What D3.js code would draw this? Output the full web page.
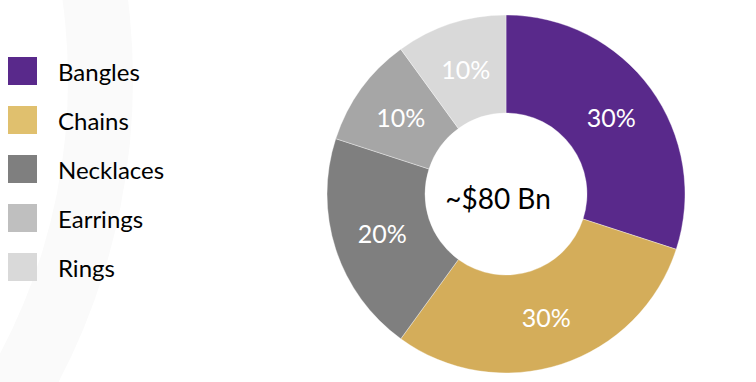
<!DOCTYPE html>
<html>
<head>
<meta charset="utf-8">
<script src="https://cdn.jsdelivr.net/npm/d3@7"></script>
<style>
  html, body { margin: 0; padding: 0; background: #ffffff; }
  svg { display: block; }
</style>
</head>
<body>
<svg id="chart" width="756" height="382"></svg>
<script>
// Jewellery market split by product type
const categories = ["Bangles", "Chains", "Necklaces", "Earrings", "Rings"];
const shares = [30, 30, 20, 10, 10];
const shareLabels = ["30%", "30%", "20%", "10%", "10%"];
const totalLabel = "~$80 Bn";

const sliceColors = ["#59298b", "#d4ad5a", "#7f7f7f", "#a6a6a6", "#d9d9d9"];
const keyColors = ["#59298b", "#e0c06e", "#7f7f7f", "#bfbfbf", "#d9d9d9"];

const W = 756, H = 382;
const svg = d3.select("#chart");
const textFont = "Lato, sans-serif";

// faint decorative ring sweeping down the left side
const deco = d3.arc()
  .innerRadius(585).outerRadius(650)
  .startAngle(0).endAngle(Math.PI);
svg.append("path")
  .attr("transform", "translate(-517,80)")
  .attr("d", deco())
  .attr("fill", "#fafafa");

// donut
const cx = 506, cy = 194, rOuter = 179, rInner = 81;
const pie = d3.pie().sort(null).value(d => d.value);
const arcs = pie(categories.map((c, i) => ({ name: c, value: shares[i], label: shareLabels[i], color: sliceColors[i] })));
const arc = d3.arc().innerRadius(rInner).outerRadius(rOuter);

const g = svg.append("g").attr("transform", `translate(${cx},${cy})`);
g.selectAll("path.slice")
  .data(arcs)
  .join("path")
  .attr("class", "slice")
  .attr("d", arc)
  .attr("fill", d => d.data.color)
  .attr("stroke", "#ffffff")
  .attr("stroke-width", 0.6)
  .attr("stroke-opacity", 0.6);

g.selectAll("text.pct")
  .data(arcs)
  .join("text")
  .attr("class", "pct")
  .attr("transform", d => `translate(${arc.centroid(d)})`)
  .attr("text-anchor", "middle")
  .attr("dy", "0.36em")
  .attr("fill", "#ffffff")
  .style("font-family", textFont)
  .style("font-size", "25px")
  .text(d => d.data.label);

g.append("text")
  .attr("text-anchor", "middle")
  .attr("x", -8)
  .attr("y", 15)
  .attr("fill", "#000000")
  .style("font-family", textFont)
  .style("font-size", "28px")
  .text(totalLabel);

// legend
const key = d3.scaleBand().domain(categories).range([57, 302]).paddingInner(0);
const kg = svg.append("g");
const rows = kg.selectAll("g.row")
  .data(categories)
  .join("g")
  .attr("class", "row")
  .attr("transform", d => `translate(0,${key(d)})`);
rows.append("rect")
  .attr("x", 8).attr("y", 0)
  .attr("width", 29).attr("height", 28)
  .attr("fill", (d, i) => keyColors[i]);
rows.append("text")
  .attr("x", 58).attr("y", 15)
  .attr("dy", "0.36em")
  .attr("fill", "#000000")
  .style("font-family", textFont)
  .style("font-size", "24px")
  .text(d => d);
</script>
</body>
</html>
